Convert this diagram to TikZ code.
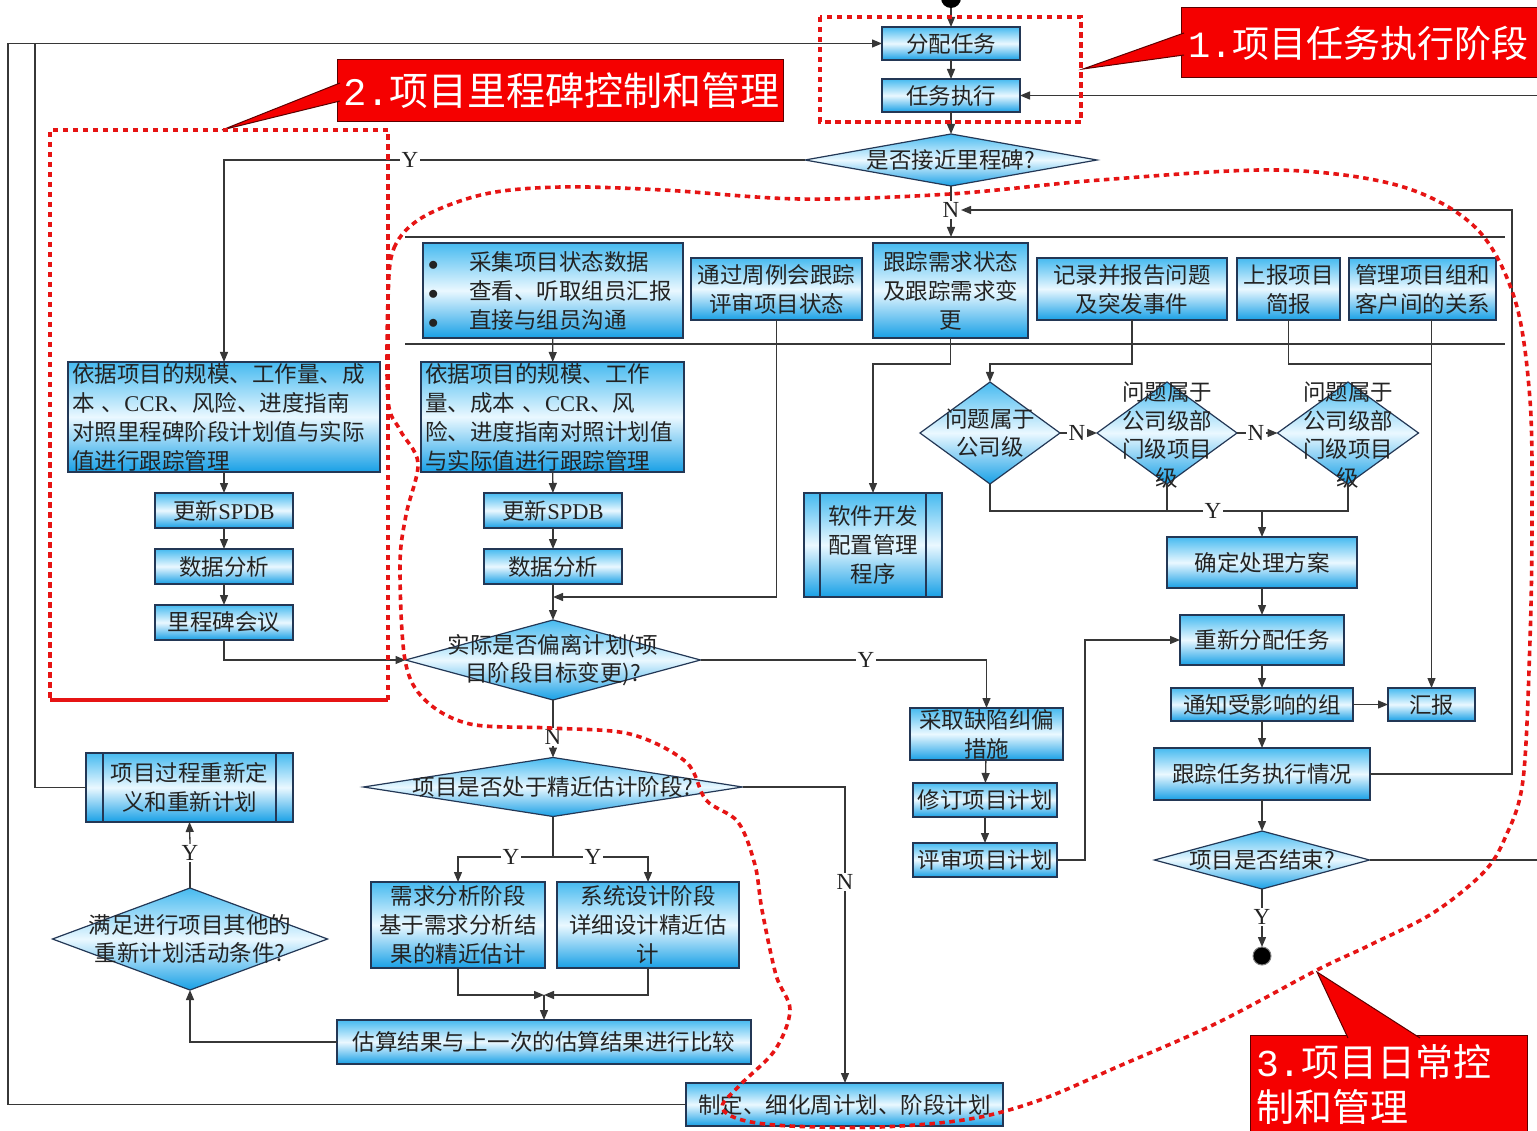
\documentclass[tikz,border=0pt]{standalone}
\usepackage{fontspec}
\setmainfont{Liberation Serif}
\newfontfamily\cjk{Noto Sans CJK SC}
\newfontfamily\monof{Liberation Mono}
\usetikzlibrary{shapes.geometric,arrows.meta}

\definecolor{btop}{RGB}{70,186,240}
\definecolor{bmid}{RGB}{234,248,255}
\definecolor{bbot}{RGB}{24,160,230}
\definecolor{bord}{RGB}{35,55,85}
\definecolor{linec}{RGB}{55,55,55}
\definecolor{txtc}{RGB}{35,35,35}
\definecolor{cred}{RGB}{245,0,0}
\definecolor{cedge}{RGB}{90,0,0}
\definecolor{dred}{RGB}{230,20,20}

\newcommand\lat[1]{{\rmfamily #1}}

\tikzset{
  box/.style={draw=bord, line width=1.2pt, top color=btop, bottom color=bbot, middle color=bmid,
    inner xsep=4pt, inner ysep=0pt, outer sep=0pt, text=txtc, align=center,
    font=\cjk\fontsize{22.5}{29}\selectfont},
  dia/.style={diamond, draw=bord, line width=1.2pt, top color=btop, bottom color=bbot, middle color=bmid,
    inner sep=0pt, outer sep=0pt},
  dtxt/.style={inner sep=0pt, text=txtc, align=center, font=\cjk\fontsize{22.5}{28.5}\selectfont},
  lbl/.style={inner sep=1.5pt, fill=white, text=txtc, font=\fontsize{23}{23}\selectfont},
  ln/.style={draw=linec, line width=1.3pt},
  arr/.style={-{Triangle[length=10pt,width=8pt]}},
  cbox/.style={fill=cred, draw=cedge, line width=1pt, text=white, inner xsep=6pt, inner ysep=0pt,
    outer sep=0pt, align=left},
  cptr/.style={fill=cred, draw=cedge, line width=1pt, line join=miter},
  reddash/.style={draw=dred, line width=3.6pt, dash pattern=on 5.5pt off 4.5pt},
}

\begin{document}
\begin{tikzpicture}[x=1pt,y=-1pt]
\useasboundingbox (0,0) rectangle (1537,1131);
\clip (0,0) rectangle (1537,1131);
\fill[white] (0,0) rectangle (1537,1131);

% ---------- task execution stage ----------
\node[circle, fill=black, minimum size=20pt, inner sep=0pt, outer sep=0pt] (st) at (951,-2) {};
\node[box, minimum width=138pt, minimum height=33pt] (fp) at (951,43.5) {分配任务};
\node[box, minimum width=138pt, minimum height=33pt] (zx) at (951,95.5) {任务执行};
\node[dia, minimum width=292pt, minimum height=52pt] (d1) at (951,160) {};
\node[dtxt] (d1t) at (d1.center) {是否接近里程碑?};

% ---------- parallel monitoring activities ----------
\node[box, minimum width=260pt, minimum height=95pt, text width=250pt, align=left] (cj) at (553,290.5)
  {\makebox[41pt][l]{$\bullet$}采集项目状态数据\\\makebox[41pt][l]{$\bullet$}查看、听取组员汇报\\\makebox[41pt][l]{$\bullet$}直接与组员沟通};
\node[box, minimum width=171pt, minimum height=62pt] (zl) at (776.5,289) {通过周例会跟踪\\评审项目状态};
\node[box, minimum width=155pt, minimum height=95pt] (gz) at (950.5,290.5) {跟踪需求状态\\及跟踪需求变\\更};
\node[box, minimum width=190pt, minimum height=62pt] (jl) at (1132,289) {记录并报告问题\\及突发事件};
\node[box, minimum width=103pt, minimum height=62pt] (sb) at (1288.5,289) {上报项目\\简报};
\node[box, minimum width=147pt, minimum height=62pt] (gl) at (1422.5,289) {管理项目组和\\客户间的关系};

% ---------- milestone column ----------
\node[box, minimum width=312pt, minimum height=110pt, text width=304pt, align=left] (yjL) at (224,417)
  {依据项目的规模、工作量、成\\本 、\lat{CCR}、风险、进度指南\\对照里程碑阶段计划值与实际\\值进行跟踪管理};
\node[box, minimum width=138pt, minimum height=35pt] (spL) at (224,510.5) {更新\lat{SPDB}};
\node[box, minimum width=138pt, minimum height=35pt] (sjL) at (224,566.5) {数据分析};
\node[box, minimum width=138pt, minimum height=35pt] (lc) at (224,622.5) {里程碑会议};

% ---------- daily control column ----------
\node[box, minimum width=263pt, minimum height=110pt, text width=255pt, align=left] (yjM) at (552.5,417)
  {依据项目的规模、工作\\量、成本 、\lat{CCR}、风\\险、进度指南对照计划值\\与实际值进行跟踪管理};
\node[box, minimum width=138pt, minimum height=35pt] (spM) at (553,510.5) {更新\lat{SPDB}};
\node[box, minimum width=138pt, minimum height=35pt] (sjM) at (553,566.5) {数据分析};
\node[dia, minimum width=295pt, minimum height=80pt] (d2) at (553,660) {};
\node[dtxt] (d2t) at (d2.center) {实际是否偏离计划(项\\目阶段目标变更)?};
\node[dia, minimum width=379pt, minimum height=59pt] (d3) at (553,787) {};
\node[dtxt] (d3t) at (d3.center) {项目是否处于精近估计阶段?};
\node[box, minimum width=174pt, minimum height=86pt] (xq) at (458,925) {需求分析阶段\\基于需求分析结\\果的精近估计};
\node[box, minimum width=182pt, minimum height=86pt] (xt) at (648,925) {系统设计阶段\\详细设计精近估\\计};
\node[box, minimum width=414pt, minimum height=44pt] (gs) at (544,1042) {估算结果与上一次的估算结果进行比较};
\node[dia, minimum width=275pt, minimum height=102pt] (d4) at (190,939) {};
\node[dtxt] (d4t) at (d4.center) {满足进行项目其他的\\重新计划活动条件?};
\node[box, minimum width=207pt, minimum height=69pt] (gc) at (189.5,787.5) {项目过程重新定\\义和重新计划};
\draw[draw=bord, line width=1.2pt] ([xshift=17pt]gc.north west) -- ([xshift=17pt]gc.south west)
  ([xshift=-17pt]gc.north east) -- ([xshift=-17pt]gc.south east);
\node[box, minimum width=317pt, minimum height=43pt] (zd) at (844.5,1104.5) {制定、细化周计划、阶段计划};

\node[box, minimum width=138pt, minimum height=104pt] (rj) at (873,545) {软件开发\\配置管理\\程序};
\draw[draw=bord, line width=1.2pt] ([xshift=16pt]rj.north west) -- ([xshift=16pt]rj.south west)
  ([xshift=-16pt]rj.north east) -- ([xshift=-16pt]rj.south east);

\node[box, minimum width=153pt, minimum height=52pt] (cq) at (986.5,734) {采取缺陷纠偏\\措施};
\node[box, minimum width=144pt, minimum height=34pt] (xd) at (985,800) {修订项目计划};
\node[box, minimum width=144pt, minimum height=34pt] (ps) at (985,860) {评审项目计划};

% ---------- issue handling ----------
\node[dia, minimum width=140pt, minimum height=102pt] (q1) at (990,433) {};
\node[dtxt] (q1t) at (q1.center) {问题属于\\公司级};
\node[dia, minimum width=140pt, minimum height=102pt] (q2) at (1167,433) {};
\node[dtxt] (q2t) at ([yshift=-2pt]q2.center) {问题属于\\公司级部\\门级项目\\级};
\node[dia, minimum width=141pt, minimum height=102pt] (q3) at (1348,433) {};
\node[dtxt] (q3t) at ([yshift=-2pt]q3.center) {问题属于\\公司级部\\门级项目\\级};
\node[box, minimum width=190pt, minimum height=51pt] (qd) at (1262,562.5) {确定处理方案};
\node[box, minimum width=164pt, minimum height=50pt] (cf) at (1262,640) {重新分配任务};
\node[box, minimum width=182pt, minimum height=33pt] (tz) at (1262,704.5) {通知受影响的组};
\node[box, minimum width=87pt, minimum height=33pt] (hb) at (1431.5,704.5) {汇报};
\node[box, minimum width=216pt, minimum height=52pt] (gr) at (1262,774) {跟踪任务执行情况};
\node[dia, minimum width=215pt, minimum height=58pt] (de) at (1262,860) {};
\node[dtxt] (det) at (de.center) {项目是否结束?};
\node[circle, fill=black, draw=gray, line width=1pt, minimum size=18pt, inner sep=0pt, outer sep=0pt] (en) at (1262,956) {};

% ---------- branch labels ----------
\node[lbl] (n1) at (951,210) {N};
\node[lbl] (y1) at (410,160) {Y};
\node[lbl] (n2) at (1077,433) {N};
\node[lbl] (n3) at (1256,433) {N};
\node[lbl] (y2) at (1213,511) {Y};
\node[lbl] (y3) at (1262,917) {Y};
\node[lbl] (y4) at (866,660) {Y};
\node[lbl] (n4) at (553,737) {N};
\node[lbl] (y5) at (511,857) {Y};
\node[lbl] (y6) at (593,857) {Y};
\node[lbl] (n5) at (845,882) {N};
\node[lbl] (y7) at (190,853) {Y};

% ---------- helper coordinates ----------
\coordinate (b1a) at (405,237);  \coordinate (b1b) at (1505,237);
\coordinate (b2a) at (405,344);  \coordinate (b2b) at (1505,344);
\coordinate (k1) at (0,364);
\coordinate (k2) at (0,511);
\coordinate (k3) at (553,857);
\coordinate (k4) at (0,995);
\coordinate (j1) at (553,597);
\coordinate (r1) at (1512,210);
\coordinate (r2) at (1550,95.5);
\coordinate (t0) at (8,43.5);
\coordinate (t1) at (35,43.5);

% ---------- connectors ----------
\draw[ln,arr] (st) -- (fp);
\draw[ln,arr] (fp) -- (zx);
\draw[ln,arr] (zx) -- (d1);
\draw[ln] (d1.south) -- (n1.north);
\draw[ln] (b1a) -- (b1b);
\draw[ln] (b2a) -- (b2b);
\draw[ln,arr] (n1.south) -- (n1.south |- b1a);
\draw[ln] (d1.west) -- (y1.east);
\draw[ln,arr] (y1.west) -| (yjL.north);

\draw[ln,arr] (cj) -- (yjM);
\draw[ln,arr] (yjM) -- (spM);
\draw[ln,arr] (spM) -- (sjM);
\draw[ln,arr] (sjM) -- (d2);
\draw[ln,arr] (zl.south) |- (j1);
\draw[ln,arr] (yjL) -- (spL);
\draw[ln,arr] (spL) -- (sjL);
\draw[ln,arr] (sjL) -- (lc);
\draw[ln,arr] (lc.south) |- (d2.west);

\draw[ln,arr] (gz.south) -- (gz.south |- k1) -| (rj.north);
\draw[ln,arr] (jl.south) -- (jl.south |- k1) -| (q1.north);
\draw[ln] (sb.south) -- (sb.south |- k1) -- (hb.north |- k1);
\draw[ln,arr] (hb.north |- gl.south) -- (hb.north);

\draw[ln] (q1.east) -- (n2.west);
\draw[ln,arr] (n2.east) -- (q2.west);
\draw[ln] (q2.east) -- (n3.west);
\draw[ln,arr] (n3.east) -- (q3.west);
\draw[ln] (q1.south) |- (y2.west);
\draw[ln] (q2.south) -- (q2.south |- k2);
\draw[ln] (q3.south) |- (y2.east);
\draw[ln,arr] (qd.north |- k2) -- (qd.north);

\draw[ln,arr] (qd) -- (cf);
\draw[ln,arr] (cf) -- (tz);
\draw[ln,arr] (tz) -- (hb);
\draw[ln,arr] (tz) -- (gr);
\draw[ln,arr] (gr) -- (de);
\draw[ln,arr] (ps.east) -- ++(28,0) |- (cf.west);
\draw[ln,arr] (gr.east) -| (r1) -- (n1.east);
\draw[ln,arr] (de.east) -| (r2) -- (zx.east);
\draw[ln] (de.south) -- (y3.north);
\draw[ln,arr] (y3.south) -- (en.north);

\draw[ln] (d2.east) -- (y4.west);
\draw[ln,arr] (y4.east) -| (cq.north);
\draw[ln,arr] (cq) -- (xd);
\draw[ln,arr] (xd) -- (ps);

\draw[ln] (d2.south) -- (n4.north);
\draw[ln,arr] (n4.south) -- (d3.north);
\draw[ln] (d3.south) -- (k3);
\draw[ln] (y5.east) -- (y6.west);
\draw[ln,arr] (y5.west) -| (xq.north);
\draw[ln,arr] (y6.east) -| (xt.north);
\draw[ln] (d3.east) -| (n5.north);
\draw[ln,arr] (n5.south) -- (n5.south |- zd.north);

\draw[ln,arr] (xq.south) |- (gs.north |- k4);
\draw[ln,arr] (xt.south) |- (gs.north |- k4);
\draw[ln,arr] (gs.north |- k4) -- (gs.north);
\draw[ln,arr] (gs.west) -| (d4.south);
\draw[ln] (d4.north) -- (y7.south);
\draw[ln,arr] (y7.north) -- (gc.south);
\draw[ln] (gc.west) -| (t1);
\draw[ln,arr] (zd.west) -| (t0) -- (fp.west);

% ---------- stage callouts ----------
\node[cbox, anchor=north west, minimum width=380pt, minimum height=70pt, text width=366pt,
  font=\cjk\fontsize{37}{44}\selectfont] (c1) at (1181,8) {{\monof 1.}项目任务执行阶段};
\filldraw[cptr] (1184,33) -- (1083,69) -- (1184,55);
\node[cbox, anchor=north west, minimum width=446pt, minimum height=62pt, text width=434pt,
  font=\cjk\fontsize{39}{44}\selectfont] (c2) at (337,60) {{\monof 2.}项目里程碑控制和管理};
\filldraw[cptr] (340,83) -- (222,130) -- (340,101);
\node[cbox, anchor=north west, minimum width=277pt, minimum height=100pt, text width=265pt,
  font=\cjk\fontsize{38}{45}\selectfont] (c3) at (1250,1035) {{\monof 3.}项目日常控\\制和管理};
\filldraw[cptr] (1348,1038) -- (1317,972) -- (1420,1038);

% ---------- stage outlines ----------
\draw[reddash] (820,17) rectangle (1081,122);
\draw[reddash] (388,700) -- (388,130) -- (50,130) -- (50,700);
\draw[draw=dred, line width=3.6pt] (50,700) -- (388,700);
\draw[reddash] plot[smooth cycle, tension=0.55] coordinates {
  (388,300) (394,248) (423,217) (485,194) (561,187) (663,190) (800,199) (950,194)
  (1100,180) (1277,170) (1400,186) (1476,228) (1515,300) (1530,400) (1532,520)
  (1530,640) (1523,780) (1505,838) (1483,873) (1433,913) (1370,945) (1317,970)
  (1217,1023) (1117,1067) (1040,1100) (970,1119) (880,1127) (790,1126) (742,1120)
  (722,1107) (740,1085) (775,1050) (790,1010) (776,975) (762,910) (755,865)
  (738,822) (706,800) (686,762) (630,734) (550,728) (470,724) (425,700) (405,660)
  (400,565) (406,515) (418,463) (400,430) (388,400)};
\end{tikzpicture}
\end{document}
